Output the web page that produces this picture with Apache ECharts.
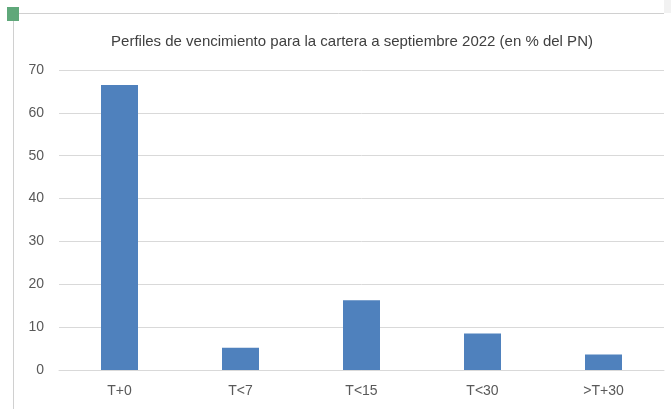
<!DOCTYPE html>
<html>
<head>
<meta charset="utf-8">
<script src="https://cdn.jsdelivr.net/npm/echarts@6/dist/echarts.min.js"></script>
<style>
  html, body { margin: 0; padding: 0; background: #fff; }
  #chart { width: 671px; height: 409px; }
</style>
</head>
<body>
<div id="chart"></div>
<script>
// ---------------------- Data ----------------------
let categories = ["T+0", "T<7", "T<15", "T<30", ">T+30"];
let perfil_values = [66.5, 5.2, 16.3, 8.5, 3.6];
let y_ticks = [0, 10, 20, 30, 40, 50, 60, 70];

let chart_dom = document.getElementById("chart");
let chart = echarts.init(chart_dom);

let font_family = "'Liberation Sans Narrow', 'Liberation Sans', sans-serif";

// ---------------------- Option ----------------------
let option = {
    backgroundColor: "#ffffff",
    animation: false,
    title: {
        text: "Perfiles de vencimiento para la cartera a septiembre 2022 (en % del PN)",
        left: 347,
        top: 29,
        textAlign: "center",
        textStyle: {
            fontFamily: font_family,
            fontSize: 15,
            fontWeight: "normal",
            color: "#404040"
        }
    },
    grid: {
        left: 59,
        right: 7,
        top: 70,
        bottom: 39
    },
    xAxis: {
        type: "category",
        data: categories,
        axisLine: { lineStyle: { color: "#d9d9d9" } },
        axisTick: { show: false },
        axisLabel: {
            margin: 14,
            fontFamily: font_family,
            fontSize: 14,
            color: "#595959"
        }
    },
    yAxis: {
        type: "value",
        min: y_ticks[0],
        max: y_ticks[y_ticks.length - 1],
        interval: 10,
        axisLine: { show: false },
        axisTick: { show: false },
        splitLine: { lineStyle: { color: "#d9d9d9" } },
        axisLabel: {
            margin: 15,
            fontFamily: font_family,
            fontSize: 14,
            color: "#595959"
        }
    },
    series: [{
        type: "bar",
        data: perfil_values,
        barWidth: 37,
        itemStyle: { color: "#4f81bd" }
    }],
    graphic: [
        // chart frame like in the spreadsheet
        { type: "line", shape: { x1: 13, y1: 13.5, x2: 664, y2: 13.5 }, style: { stroke: "#d0d0d0", lineWidth: 1 } },
        { type: "line", shape: { x1: 13.5, y1: 13, x2: 13.5, y2: 409 }, style: { stroke: "#d0d0d0", lineWidth: 1 } },
        { type: "rect", shape: { x: 664, y: 0, width: 7, height: 13 }, style: { fill: "#f2f2f2" } },
        { type: "rect", shape: { x: 7, y: 7, width: 12, height: 14 }, style: { fill: "#5fa87a" } }
    ]
};

chart.setOption(option, true);
</script>
</body>
</html>
